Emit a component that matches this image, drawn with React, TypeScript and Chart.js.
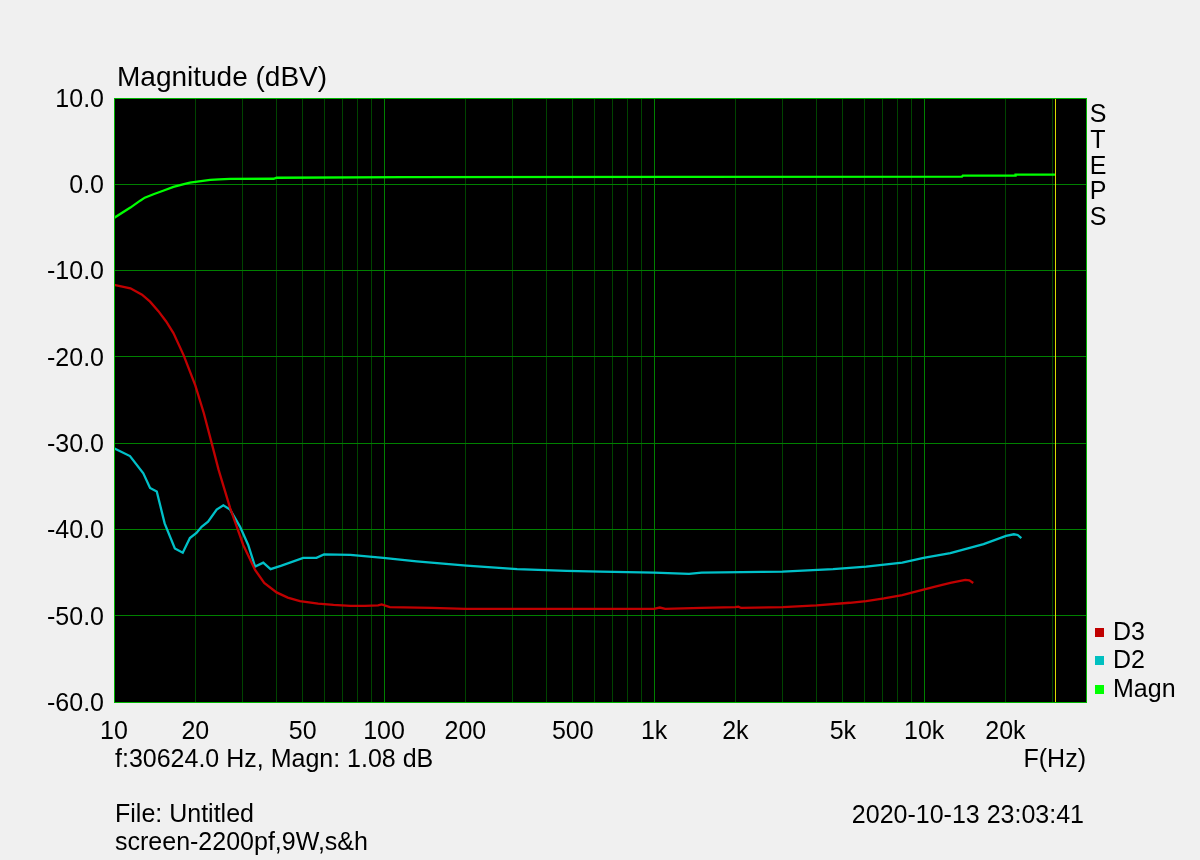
import React, { useEffect, useRef } from "react";
import { Chart, registerables } from "chart.js";

Chart.register(...registerables);

const FONT = "'Liberation Sans', Arial, sans-serif";

// ---- Data ----
const D3_FREQ = [10, 11.5, 12.7, 13.6, 14.6, 15.6, 16.6, 18.1, 20, 21.5, 23, 24.4, 26.9, 28.5, 30.1, 33.3, 36, 40, 44, 48.8, 57, 65, 75, 85, 95, 98, 105, 150, 200, 300, 500, 1000, 1050, 1100, 1500, 2000, 2050, 2100, 3000, 4000, 5300, 6100, 7100, 8300, 9300, 10800, 12500, 14200, 14700, 15200];
const D3_DB = [-11.65, -12.05, -12.8, -13.6, -14.7, -15.9, -17.25, -19.8, -23.3, -26.5, -30.0, -33.1, -37.5, -39.7, -41.8, -44.7, -46.2, -47.3, -47.9, -48.3, -48.6, -48.75, -48.85, -48.85, -48.8, -48.7, -49.0, -49.1, -49.2, -49.2, -49.2, -49.2, -49.05, -49.2, -49.1, -49.0, -48.95, -49.1, -49.0, -48.8, -48.5, -48.3, -48.0, -47.6, -47.2, -46.7, -46.2, -45.85, -45.9, -46.2];

const D2_FREQ = [10, 11.46, 12.84, 13.6, 14.4, 15.4, 16.8, 17.97, 19.1, 20.2, 21.1, 22.3, 24.0, 25.4, 26.9, 29.3, 31.4, 33.3, 35.7, 38.0, 41.7, 50.2, 56.2, 59.9, 75, 99.4, 132, 202, 311, 474, 631, 1000, 1347, 1500, 2990, 4600, 6100, 8300, 9950, 12500, 16600, 20100, 21500, 22200, 22900];
const D2_DB = [-30.6, -31.5, -33.5, -35.2, -35.6, -39.3, -42.2, -42.7, -41.0, -40.4, -39.7, -39.1, -37.7, -37.2, -37.7, -39.7, -41.8, -44.3, -43.85, -44.6, -44.2, -43.3, -43.3, -42.9, -42.95, -43.3, -43.7, -44.2, -44.6, -44.8, -44.9, -45.0, -45.15, -45.0, -44.9, -44.6, -44.3, -43.85, -43.3, -42.75, -41.7, -40.75, -40.56, -40.64, -41.0];

const MAGN_FREQ = [10, 11.5, 12.5, 13, 14, 15.2, 16.6, 18, 19.1, 21, 22.7, 24.5, 26.9, 39, 40, 120, 13800, 13900, 21700, 21800, 30624];
const MAGN_DB = [-3.9, -2.7, -1.9, -1.55, -1.15, -0.75, -0.3, 0.0, 0.2, 0.37, 0.5, 0.56, 0.62, 0.64, 0.76, 0.84, 0.88, 1.0, 1.0, 1.11, 1.11];

const SERIES_NAMES = ["D3", "D2", "Magn"];
const SERIES_COLORS = ["#c00000", "#00c0c8", "#00ff00"];
const LEGEND_COLORS = ["#c00000", "#00c0c0", "#00ff00"];

const X_GRID_FREQS = [10, 20, 30, 40, 50, 60, 70, 80, 90, 100, 200, 300, 400, 500, 600, 700, 800, 900, 1000, 2000, 3000, 4000, 5000, 6000, 7000, 8000, 9000, 10000, 20000, 30000];
const X_LABEL_FREQS = [10, 20, 50, 100, 200, 500, 1000, 2000, 5000, 10000, 20000];
const X_LABEL_TEXTS = ["10", "20", "50", "100", "200", "500", "1k", "2k", "5k", "10k", "20k"];

const Y_MIN = -60;
const Y_MAX = 10;
const Y_STEP = 10;
const X_MIN = 10;
const X_MAX = 39750;
const CURSOR_FREQ = 30624;

const TITLE = "Magnitude (dBV)";
const X_AXIS_NAME = "F(Hz)";
const CURSOR_TEXT = "f:30624.0 Hz, Magn: 1.08 dB";
const FILE_TEXT = "File: Untitled";
const NOTE_TEXT = "screen-2200pf,9W,s&h";
const DATE_TEXT = "2020-10-13 23:03:41";
const SIDE_TEXT = ["S", "T", "E", "P", "S"];

const toPoints = (fs: number[], ds: number[]) => fs.map((f, i) => ({ x: f, y: ds[i] }));

const isDecade = (v: number) => Math.abs(Math.log10(v) - Math.round(Math.log10(v))) < 1e-9;

const decorPlugin = {
  id: "decor",
  beforeDraw(chart: any) {
    const { ctx, chartArea: a } = chart;
    ctx.save();
    ctx.fillStyle = "#f0f0f0";
    ctx.fillRect(0, 0, chart.width, chart.height);
    ctx.fillStyle = "#000000";
    ctx.fillRect(a.left, a.top, a.right - a.left, a.bottom - a.top);
    ctx.restore();
  },
  afterDatasetsDraw(chart: any) {
    const { ctx, chartArea: a, scales } = chart;
    const cx = Math.round(scales.x.getPixelForValue(CURSOR_FREQ));
    ctx.save();
    ctx.fillStyle = "#d8d800";
    ctx.fillRect(cx, a.top, 1, a.bottom - a.top);
    ctx.restore();
  },
  afterDraw(chart: any) {
    const { ctx, chartArea: a } = chart;
    ctx.save();
    // border
    ctx.strokeStyle = "#00b400";
    ctx.lineWidth = 1;
    ctx.strokeRect(Math.round(a.left) + 0.5, Math.round(a.top) + 0.5, Math.round(a.right - a.left), Math.round(a.bottom - a.top));

    ctx.fillStyle = "#000000";
    ctx.textBaseline = "alphabetic";
    ctx.font = `28px ${FONT}`;
    ctx.textAlign = "left";
    ctx.fillText(TITLE, 117, 86);

    ctx.font = `25px ${FONT}`;
    ctx.fillText(CURSOR_TEXT, 115, 767);
    ctx.fillText(FILE_TEXT, 115, 822);
    ctx.fillText(NOTE_TEXT, 115, 850);
    ctx.textAlign = "right";
    ctx.fillText(X_AXIS_NAME, 1086, 767);
    ctx.fillText(DATE_TEXT, 1084, 823);

    ctx.textAlign = "center";
    SIDE_TEXT.forEach((ch, i) => ctx.fillText(ch, 1098, 122 + i * 25.8));

    ctx.textAlign = "left";
    SERIES_NAMES.forEach((name, i) => {
      const yb = 640 + i * 28.3;
      ctx.fillStyle = LEGEND_COLORS[i];
      ctx.fillRect(1095, Math.round(yb - 12), 9, 9);
      ctx.fillStyle = "#000000";
      ctx.fillText(name, 1113, yb);
    });
    ctx.restore();
  },
};

export default function App() {
  const ref = useRef<HTMLCanvasElement | null>(null);

  useEffect(() => {
    if (!ref.current) return;
    const chart = new Chart(ref.current, {
      type: "line",
      data: {
        datasets: [
          { label: SERIES_NAMES[0], data: toPoints(D3_FREQ, D3_DB), borderColor: SERIES_COLORS[0] },
          { label: SERIES_NAMES[1], data: toPoints(D2_FREQ, D2_DB), borderColor: SERIES_COLORS[1] },
          { label: SERIES_NAMES[2], data: toPoints(MAGN_FREQ, MAGN_DB), borderColor: SERIES_COLORS[2] },
        ].map((d) => ({ ...d, borderWidth: 2.3, pointRadius: 0, tension: 0, fill: false })),
      },
      options: {
        responsive: false,
        animation: false,
        events: [],
        layout: { padding: { left: 0, top: 98, right: 114, bottom: 108 } },
        plugins: { legend: { display: false }, tooltip: { enabled: false }, title: { display: false } },
        scales: {
          x: {
            type: "logarithmic",
            min: X_MIN,
            max: X_MAX,
            afterBuildTicks: (scale: any) => {
              scale.ticks = X_GRID_FREQS.map((v) => ({ value: v }));
            },
            afterFit: (scale: any) => {
              scale.height = 50;
            },
            ticks: {
              autoSkip: false,
              maxRotation: 0,
              minRotation: 0,
              padding: 15,
              color: "#000000",
              font: { family: FONT, size: 25 },
              callback: (v: any) => {
                const idx = X_LABEL_FREQS.indexOf(Number(v));
                return idx >= 0 ? X_LABEL_TEXTS[idx] : "";
              },
            },
            grid: {
              drawTicks: false,
              lineWidth: 1,
              color: (c: any) => (c.tick && isDecade(c.tick.value) ? "#008000" : "#004400"),
            },
            border: { display: false },
          },
          y: {
            type: "linear",
            min: Y_MIN,
            max: Y_MAX,
            afterFit: (scale: any) => {
              scale.width = 114;
            },
            ticks: {
              stepSize: Y_STEP,
              padding: 10,
              labelOffset: 2,
              color: "#000000",
              font: { family: FONT, size: 25 },
              callback: (v: any) => Number(v).toFixed(1),
            },
            grid: { drawTicks: false, lineWidth: 1, color: "#008000" },
            border: { display: false },
          },
        },
      },
      plugins: [decorPlugin],
    });
    return () => chart.destroy();
  }, []);

  return (
    <div style={{ position: "absolute", left: 0, top: 0, width: 1200, height: 860, background: "#f0f0f0" }}>
      <canvas ref={ref} width={1200} height={860} style={{ display: "block", width: 1200, height: 860 }} />
    </div>
  );
}
